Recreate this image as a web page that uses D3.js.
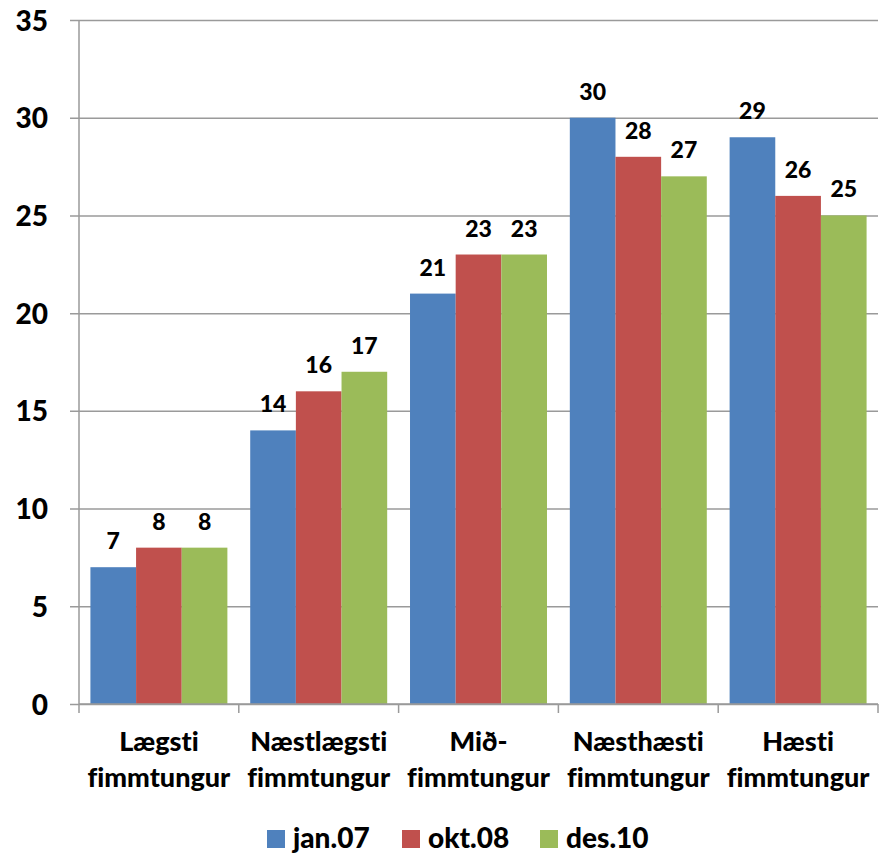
<!DOCTYPE html>
<html>

<head>
    <meta charset="utf-8" />
    <style>
        body {
            margin: 0;
            background-color: white;
        }
        text {
            font-family: Lato, "Open Sans", sans-serif;
            font-weight: 900;
            font-variant-ligatures: none;
            fill: black;
        }
    </style>

    <script src="https://cdn.jsdelivr.net/npm/d3@7"></script>
</head>

<body>
    <script>
        var categories = [
            ["Lægsti", "fimmtungur"],
            ["Næstlægsti", "fimmtungur"],
            ["Mið-", "fimmtungur"],
            ["Næsthæsti", "fimmtungur"],
            ["Hæsti", "fimmtungur"]
        ];
        var seriesNames = ["jan.07", "okt.08", "des.10"];
        var jan07 = [7, 14, 21, 30, 29];
        var okt08 = [8, 16, 23, 28, 26];
        var des10 = [8, 17, 23, 27, 25];
        var yTicks = [0, 5, 10, 15, 20, 25, 30, 35];
        var colors = ["#4F81BD", "#C0504D", "#9BBB59"];

        var seriesValues = [jan07, okt08, des10];

        var width = 883,
            height = 854;

        var svg = d3.select("body").append("svg")
            .attr("width", width)
            .attr("height", height);

        var x0 = d3.scaleBand()
            .domain(d3.range(categories.length))
            .range([79, 878])
            .paddingInner(0)
            .paddingOuter(0);

        var x1 = d3.scaleBand()
            .domain(d3.range(seriesNames.length))
            .range([0, x0.bandwidth()])
            .paddingOuter(0.25);

        var y = d3.scaleLinear()
            .domain([0, 35])
            .range([704, 20]);

        // gridlines + y axis
        var yAxis = d3.axisLeft(y)
            .tickValues(yTicks)
            .tickSize(-(878 - 70))
            .tickPadding(22);

        var gy = svg.append("g")
            .attr("transform", "translate(70,0)")
            .call(yAxis);
        gy.select(".domain").remove();
        gy.selectAll(".tick line")
            .attr("stroke", "#9a9a9a")
            .attr("stroke-width", 1.5);
        gy.selectAll(".tick text")
            .attr("font-size", 28)
            .attr("dy", "0.36em");

        // bars
        var groups = svg.selectAll(".group")
            .data(categories)
            .enter().append("g")
            .attr("transform", function (d, i) { return "translate(" + x0(i) + ",0)"; });

        groups.selectAll("rect")
            .data(function (d, i) { return seriesValues.map(function (s, k) { return { k: k, v: s[i] }; }); })
            .enter().append("rect")
            .attr("x", function (d) { return x1(d.k); })
            .attr("width", x1.bandwidth())
            .attr("y", function (d) { return y(d.v); })
            .attr("height", function (d) { return y(0) - y(d.v); })
            .attr("fill", function (d) { return colors[d.k]; });

        groups.selectAll(".lbl")
            .data(function (d, i) { return seriesValues.map(function (s, k) { return { k: k, v: s[i] }; }); })
            .enter().append("text")
            .attr("class", "lbl")
            .attr("x", function (d) { return x1(d.k) + x1.bandwidth() / 2; })
            .attr("y", function (d) { return y(d.v) - 18; })
            .attr("text-anchor", "middle")
            .attr("font-size", 23)
            .text(function (d) { return d.v; });

        // x axis
        var gx = svg.append("g")
            .attr("transform", "translate(0,704)");
        gx.append("line")
            .attr("x1", 79).attr("x2", 878)
            .attr("stroke", "#9a9a9a").attr("stroke-width", 1.5);
        gx.selectAll(".xt")
            .data(d3.range(categories.length + 1))
            .enter().append("line")
            .attr("x1", function (d) { return 79 + d * x0.bandwidth(); })
            .attr("x2", function (d) { return 79 + d * x0.bandwidth(); })
            .attr("y1", 0).attr("y2", 9)
            .attr("stroke", "#9a9a9a").attr("stroke-width", 1.5);

        // y axis line
        svg.append("line")
            .attr("x1", 79).attr("x2", 79)
            .attr("y1", y(35)).attr("y2", y(0))
            .attr("stroke", "#9a9a9a").attr("stroke-width", 1.5);

        // category labels
        var cl = svg.selectAll(".cat")
            .data(categories)
            .enter().append("text")
            .attr("class", "cat")
            .attr("text-anchor", "middle")
            .attr("font-size", 27)
            .attr("transform", function (d, i) { return "translate(" + (x0(i) + x0.bandwidth() / 2) + ",751)"; });
        cl.selectAll("tspan")
            .data(function (d) { return d; })
            .enter().append("tspan")
            .attr("x", 0)
            .attr("dy", function (d, j) { return j === 0 ? 0 : 36; })
            .text(function (d) { return d; });

        // legend
        var legendX = [267, 402, 540];
        var lg = svg.selectAll(".leg")
            .data(seriesNames)
            .enter().append("g")
            .attr("transform", function (d, i) { return "translate(" + legendX[i] + ",830)"; });
        lg.append("rect")
            .attr("width", 18).attr("height", 18)
            .attr("fill", function (d, i) { return colors[i]; });
        lg.append("text")
            .attr("x", 26).attr("y", 18)
            .attr("font-size", 28)
            .text(function (d) { return d; });
    </script>
</body>

</html>
